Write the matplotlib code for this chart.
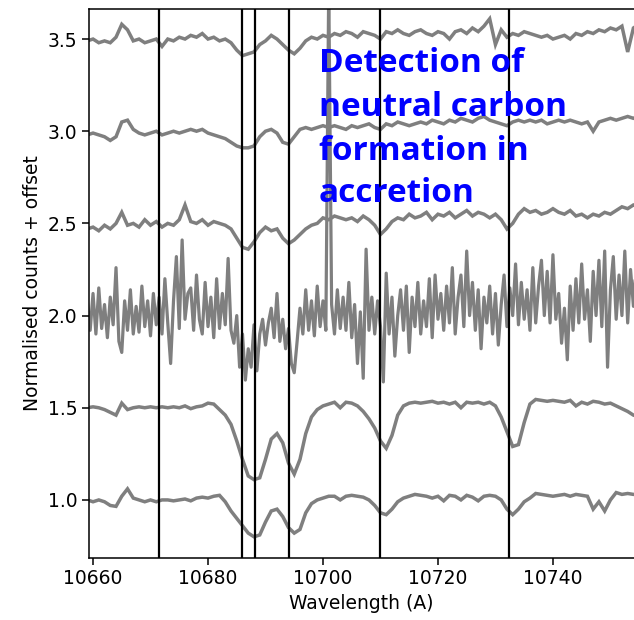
import numpy as np
import matplotlib
matplotlib.use("Agg")
import matplotlib.pyplot as plt

# wavelength grids (A)
wl = np.arange(10659, 10756, 1.0)
wl_fine = np.arange(10659, 10755.5, 0.5)

# spectra, already offset
spec_10 = [1.00, 0.99, 1.00, 0.99, 0.97, 0.965, 1.02, 1.06, 1.01, 1.00,
           0.99, 1.00, 0.99, 1.00, 1.00, 0.995, 1.00, 1.005, 0.995, 1.01,
           1.015, 1.01, 1.02, 1.025, 0.99, 0.94, 0.90, 0.86, 0.82, 0.80,
           0.81, 0.88, 0.94, 0.95, 0.91, 0.85, 0.82, 0.84, 0.93, 0.98,
           1.00, 1.01, 1.02, 1.02, 1.00, 1.02, 1.025, 1.02, 1.015, 1.00,
           0.97, 0.93, 0.92, 0.95, 0.99, 1.01, 1.02, 1.03, 1.025, 1.02,
           1.01, 1.02, 0.995, 1.025, 1.02, 1.00, 1.025, 1.015, 0.995, 1.02,
           1.025, 1.02, 1.00, 0.95, 0.92, 0.95, 0.99, 1.01, 1.035, 1.03,
           1.025, 1.02, 1.025, 1.03, 1.02, 1.03, 1.025, 1.02, 0.95, 0.99,
           0.94, 1.00, 1.04, 1.03, 1.035, 1.03, 1.03]

spec_15 = [1.50, 1.505, 1.50, 1.49, 1.475, 1.46, 1.525, 1.49, 1.50, 1.505,
           1.50, 1.505, 1.50, 1.505, 1.50, 1.505, 1.50, 1.51, 1.495, 1.505,
           1.51, 1.525, 1.52, 1.49, 1.46, 1.41, 1.32, 1.22, 1.13, 1.11,
           1.12, 1.22, 1.33, 1.36, 1.31, 1.20, 1.14, 1.22, 1.36, 1.45,
           1.49, 1.51, 1.52, 1.53, 1.50, 1.53, 1.525, 1.51, 1.48, 1.44,
           1.39, 1.32, 1.28, 1.35, 1.46, 1.51, 1.525, 1.53, 1.525, 1.53,
           1.535, 1.525, 1.53, 1.52, 1.53, 1.50, 1.53, 1.525, 1.53, 1.52,
           1.53, 1.51, 1.45, 1.37, 1.29, 1.30, 1.42, 1.52, 1.545, 1.54,
           1.535, 1.54, 1.535, 1.53, 1.54, 1.51, 1.53, 1.52, 1.535, 1.53,
           1.52, 1.525, 1.51, 1.495, 1.48, 1.46, 1.45]

# the noisy one, 0.5 A sampling
spec_20 = [2.08, 1.92, 2.12, 1.90, 2.15, 1.93, 2.06, 1.88, 2.10, 1.95,
           2.26, 1.86, 1.80, 2.08, 1.92, 2.14, 1.90, 2.05, 1.91, 2.16,
           1.94, 2.08, 1.89, 2.12, 1.95, 2.10, 1.90, 2.20, 1.96, 1.74,
           2.08, 2.32, 1.93, 2.41, 1.98, 2.12, 2.15, 1.92, 2.22, 1.98,
           1.90, 2.18, 1.94, 2.10, 1.88, 2.20, 1.93, 2.12, 1.95, 2.31,
           1.92, 1.85, 2.00, 1.72, 1.90, 1.65, 1.82, 1.72, 1.95, 1.70,
           1.90, 1.98, 1.84, 1.96, 2.04, 1.88, 2.12, 1.86, 1.98, 1.82,
           1.93, 1.74, 1.69, 1.86, 2.04, 1.90, 2.14, 1.92, 2.08, 1.89,
           2.16, 1.94, 2.08, 1.92, 3.80, 2.06, 1.90, 2.14, 1.93, 2.10,
           1.92, 2.18, 1.88, 2.06, 1.74, 2.02, 1.66, 2.36, 1.92, 2.10,
           1.90, 2.08, 1.94, 1.64, 2.23, 1.90, 2.10, 1.78, 2.00, 2.14,
           1.92, 2.16, 1.80, 2.10, 1.94, 2.18, 1.90, 2.08, 1.94, 2.20,
           1.88, 2.22, 1.98, 2.12, 1.92, 2.16, 1.96, 2.26, 1.90, 2.10,
           2.22, 1.94, 2.35, 2.00, 2.18, 1.92, 2.14, 1.82, 2.10, 1.96,
           2.16, 1.90, 2.12, 1.84, 2.06, 2.22, 1.94, 2.15, 2.00, 2.28,
           1.95, 2.18, 1.98, 2.14, 1.92, 2.26, 1.96, 2.16, 2.30, 2.00,
           2.24, 1.96, 2.33, 1.98, 2.12, 1.85, 2.04, 1.76, 2.16, 1.92,
           2.20, 1.96, 2.28, 1.98, 2.14, 1.86, 2.24, 2.00, 2.30, 1.94,
           2.35, 1.72, 2.14, 2.32, 1.98, 2.22, 2.00, 2.35, 1.96, 2.25,
           2.05, 2.30, 2.02]

spec_25 = [2.47, 2.48, 2.46, 2.49, 2.47, 2.50, 2.56, 2.49, 2.50, 2.48,
           2.52, 2.49, 2.51, 2.48, 2.50, 2.49, 2.52, 2.60, 2.51,
           2.50, 2.52, 2.49, 2.51, 2.50, 2.49, 2.47, 2.42, 2.37, 2.36,
           2.40, 2.45, 2.48, 2.46, 2.47, 2.42, 2.39, 2.41, 2.44, 2.47,
           2.49, 2.50, 2.53, 2.52, 2.54, 2.53, 2.52, 2.53, 2.51, 2.54,
           2.52, 2.49, 2.44, 2.47, 2.51, 2.53, 2.52, 2.55, 2.53, 2.54,
           2.56, 2.52, 2.55, 2.54, 2.56, 2.53, 2.55, 2.57, 2.54, 2.56,
           2.55, 2.53, 2.55, 2.52, 2.47, 2.50, 2.55, 2.58, 2.56, 2.57,
           2.55, 2.56, 2.58, 2.56, 2.55, 2.57, 2.54, 2.55, 2.53, 2.55,
           2.54, 2.56, 2.55, 2.57, 2.59, 2.58, 2.60, 2.59]

spec_30 = [2.98, 2.99, 2.98, 2.97, 2.95, 2.97, 3.05, 3.06, 3.01, 2.99,
           2.98, 2.99, 3.00, 2.98, 2.99, 3.00, 2.99, 3.00, 3.01, 3.00,
           3.01, 2.99, 2.98, 2.97, 2.96, 2.94, 2.92, 2.91, 2.91, 2.92,
           2.97, 3.00, 3.01, 2.99, 2.94, 2.93, 2.97, 3.01, 3.02, 3.01,
           3.02, 3.03, 3.02, 3.03, 3.02, 3.01, 3.03, 3.02, 3.03, 3.04,
           3.02, 3.01, 3.04, 3.03, 3.05, 3.04, 3.03, 3.04, 3.05, 3.04,
           3.06, 3.05, 3.04, 3.06, 3.05, 3.07, 3.06, 3.05, 3.07, 3.08,
           3.06, 3.05, 3.04, 3.03, 3.05, 3.06, 3.05, 3.06, 3.05, 3.06,
           3.04, 3.05, 3.06, 3.05, 3.06, 3.05, 3.04, 3.05, 3.00, 3.05,
           3.06, 3.07, 3.06, 3.07, 3.08, 3.07, 3.08]

spec_35 = [3.49, 3.50, 3.48, 3.49, 3.48, 3.51, 3.58, 3.55, 3.49, 3.50,
           3.48, 3.49, 3.50, 3.46, 3.50, 3.49, 3.51, 3.50, 3.52, 3.51,
           3.53, 3.50, 3.51, 3.49, 3.50, 3.48, 3.44, 3.41, 3.42, 3.43,
           3.47, 3.49, 3.52, 3.50, 3.47, 3.44, 3.42, 3.45, 3.49, 3.51,
           3.50, 3.52, 3.51, 3.53, 3.52, 3.54, 3.53, 3.51, 3.54, 3.53,
           3.52, 3.50, 3.54, 3.53, 3.55, 3.53, 3.52, 3.54, 3.55, 3.53,
           3.52, 3.54, 3.53, 3.50, 3.54, 3.55, 3.53, 3.56, 3.54, 3.57,
           3.61, 3.47, 3.55, 3.51, 3.53, 3.52, 3.54, 3.53, 3.52, 3.51,
           3.52, 3.50, 3.51, 3.52, 3.50, 3.53, 3.52, 3.54, 3.53, 3.55,
           3.54, 3.56, 3.55, 3.57, 3.43, 3.56, 3.58]

# line positions marked in black
line_wl = [10671.5, 10685.9, 10688.2, 10694.1, 10709.9, 10732.3]

xticks = [10660, 10680, 10700, 10720, 10740]
yticks = [1.0, 1.5, 2.0, 2.5, 3.0, 3.5]

note_lines = ['Detection of', 'neutral carbon', 'formation in', 'accretion']

plt.rcParams['font.size'] = 13.5
plt.rcParams['axes.linewidth'] = 1.1
plt.rcParams['xtick.major.size'] = 4.7
plt.rcParams['ytick.major.size'] = 4.7
plt.rcParams['xtick.major.width'] = 1.1
plt.rcParams['ytick.major.width'] = 1.1

fig = plt.figure(figsize=(6.34, 6.20), dpi=100)
ax = fig.add_axes([89 / 634, 62 / 620, 1 - 89 / 634, 549 / 620])

for s in [spec_10, spec_15, spec_25, spec_30, spec_35]:
    ax.plot(wl, s, color='#7f7f7f', lw=2.5, solid_joinstyle='miter')
ax.plot(wl_fine, spec_20, color='#7f7f7f', lw=2.3)

for w in line_wl:
    ax.axvline(w, color='black', lw=1.6)

ax.set_xlim(10659.3, 10754.1)
ax.set_ylim(0.685, 3.663)
ax.set_xticks(xticks)
ax.set_yticks(yticks)
ax.spines['right'].set_visible(False)
ax.set_xlabel('Wavelength (A)')
ax.set_ylabel('Normalised counts + offset')

# annotation, one line at a time (baselines in px from top)
for txt, base in zip(note_lines, [72.5, 116.5, 160, 202]):
    fig.text(319 / 634, 1 - base / 620, txt, color='#0000ff', fontsize=24,
             fontweight='bold', family='Open Sans', va='baseline', ha='left')

fig.savefig('out.png', dpi=100)
